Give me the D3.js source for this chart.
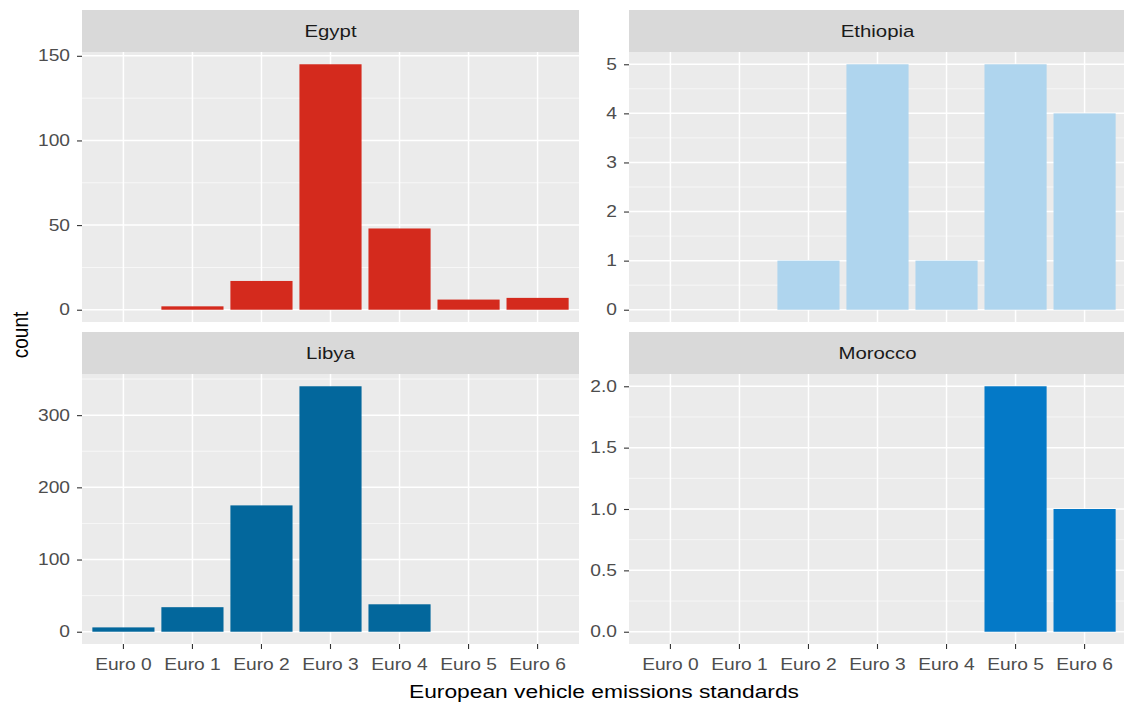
<!DOCTYPE html>
<html><head><meta charset="utf-8">
<script src="https://cdn.jsdelivr.net/npm/d3@7"></script>
<style>
body{margin:0;background:#fff}
svg{display:block}
text{font-family:"Liberation Sans",Arial,sans-serif}
</style>
</head><body>
<svg id="chart" width="1124" height="707"></svg>
<script>
// ---- data ----
const categories = ["Euro 0","Euro 1","Euro 2","Euro 3","Euro 4","Euro 5","Euro 6"];
const countries = ["Egypt","Ethiopia","Libya","Morocco"];
const egyptCounts    = [0, 2, 17, 145, 48, 6, 7];
const ethiopiaCounts = [0, 0, 1, 5, 1, 5, 4];
const libyaCounts    = [6, 34, 175, 340, 38, 0, 0];
const moroccoCounts  = [0, 0, 0, 0, 0, 2, 1];
const egyptTicks    = [0, 50, 100, 150];
const ethiopiaTicks = [0, 1, 2, 3, 4, 5];
const libyaTicks    = [0, 100, 200, 300];
const moroccoTicks  = [0, 0.5, 1, 1.5, 2];
const tickFormats = ["d", "d", "d", ".1f"];
const barColors = ["#d42a1d", "#afd5ee", "#03679c", "#0479c7"];
const xTitle = "European vehicle emissions standards";
const yTitle = "count";

const seriesCounts = [egyptCounts, ethiopiaCounts, libyaCounts, moroccoCounts];
const seriesTicks = [egyptTicks, ethiopiaTicks, libyaTicks, moroccoTicks];

// ---- layout ----
const svg = d3.select("#chart");
const SX = 1.2; // horizontal stretch of the original image's text
const colX = [82, 629];
const rowY = [10, 332];
const panelW = 497, stripH = 42, panelH = 270;

function stretchText(sel) {
  sel.each(function() {
    const t = d3.select(this);
    const x = +t.attr("x") || 0;
    t.attr("x", x / SX).attr("transform", `scale(${SX},1)`);
  });
}

countries.forEach((name, i) => {
  const col = i % 2, row = Math.floor(i / 2);
  const x0 = colX[col], top = rowY[row];
  const pTop = top + stripH;
  const counts = seriesCounts[i];
  const ticks = seriesTicks[i];
  const maxV = d3.max(counts);

  const x = d3.scaleBand().domain(categories).range([x0, x0 + panelW])
    .paddingInner(0.1).paddingOuter(0.15);
  const y = d3.scaleLinear().domain([-0.05 * maxV, 1.05 * maxV]).range([pTop + panelH, pTop]);

  const g = svg.append("g");
  // panel background
  g.append("rect").attr("x", x0).attr("y", pTop).attr("width", panelW).attr("height", panelH)
    .attr("fill", "#ebebeb");

  // minor grid
  const step = ticks[1] - ticks[0];
  const minor = [];
  const [d0, d1] = y.domain();
  for (let v = ticks[0] - step / 2; v <= d1; v += step) if (v >= d0) minor.push(v);
  g.selectAll(".ymin").data(minor).enter().append("line")
    .attr("x1", x0).attr("x2", x0 + panelW)
    .attr("y1", d => y(d)).attr("y2", d => y(d))
    .attr("stroke", "#fafafa").attr("stroke-width", 0.8);
  // major grid
  g.selectAll(".ymaj").data(ticks).enter().append("line")
    .attr("x1", x0).attr("x2", x0 + panelW)
    .attr("y1", d => y(d)).attr("y2", d => y(d))
    .attr("stroke", "#fff").attr("stroke-width", 1.5);
  g.selectAll(".xmaj").data(categories).enter().append("line")
    .attr("x1", d => x(d) + x.bandwidth() / 2).attr("x2", d => x(d) + x.bandwidth() / 2)
    .attr("y1", pTop).attr("y2", pTop + panelH)
    .attr("stroke", "#fff").attr("stroke-width", 1.5);

  // bars
  const data = categories.map((c, j) => ({c, v: counts[j]})).filter(d => d.v > 0);
  g.selectAll(".bar").data(data).enter().append("rect")
    .attr("x", d => x(d.c)).attr("width", x.bandwidth())
    .attr("y", d => y(d.v)).attr("height", d => y(0) - y(d.v))
    .attr("fill", barColors[i]);

  // strip
  g.append("rect").attr("x", x0).attr("y", top).attr("width", panelW).attr("height", stripH)
    .attr("fill", "#d9d9d9");
  const st = g.append("g").attr("transform", `translate(${x0 + panelW / 2},${top + stripH / 2 + 6})`);
  st.append("text").attr("text-anchor", "middle").attr("font-size", 17).attr("fill", "#1a1a1a")
    .attr("transform", `scale(${SX},1)`).text(name);

  // y axis
  const ya = g.append("g").attr("transform", `translate(${x0},0)`)
    .call(d3.axisLeft(y).tickValues(ticks).tickFormat(d3.format(tickFormats[i])).tickSize(5).tickPadding(7));
  ya.select(".domain").remove();
  ya.selectAll(".tick line").attr("stroke", "#333").attr("stroke-width", 1.1);
  ya.selectAll(".tick text").attr("font-size", 16).attr("fill", "#4d4d4d").attr("font-family", null)
    .call(stretchText);

  // x axis only on bottom row
  if (row === 1) {
    const xa = g.append("g").attr("transform", `translate(0,${pTop + panelH})`)
      .call(d3.axisBottom(x).tickSize(5).tickPadding(10));
    xa.select(".domain").remove();
    xa.selectAll(".tick line").attr("stroke", "#333").attr("stroke-width", 1.1);
    xa.selectAll(".tick text").attr("font-size", 16).attr("fill", "#4d4d4d").attr("font-family", null)
      .call(stretchText);
  }
});

// axis titles
svg.append("g").attr("transform", "translate(604,698)")
  .append("text").attr("text-anchor", "middle").attr("font-size", 19).attr("fill", "#000")
  .attr("transform", `scale(${SX},1)`).text(xTitle);
svg.append("g").attr("transform", "translate(28,335) rotate(-90)")
  .append("text").attr("text-anchor", "middle").attr("font-size", 19).attr("fill", "#000")
  .attr("transform", `scale(1,${SX})`).text(yTitle);
</script>
</body></html>
